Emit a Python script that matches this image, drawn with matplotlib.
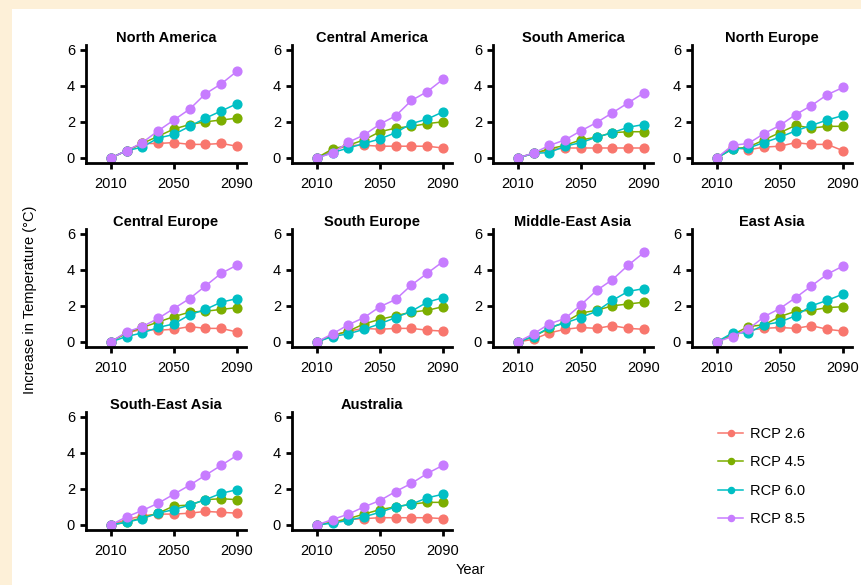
import matplotlib.pyplot as plt
from matplotlib.patches import Rectangle

plt.rcParams['font.family'] = ['Liberation Sans', 'DejaVu Sans']

years = [2010, 2020, 2030, 2040, 2050, 2060, 2070, 2080, 2090]
scenarios = ['RCP 2.6', 'RCP 4.5', 'RCP 6.0', 'RCP 8.5']
colors = ['#F8766D', '#7CAE00', '#00BFC4', '#C77CFF']
regions = ['North America', 'Central America', 'South America', 'North Europe',
           'Central Europe', 'South Europe', 'Middle-East Asia', 'East Asia',
           'South-East Asia', 'Australia']

# order per region: RCP 2.6, 4.5, 6.0, 8.5
north_america = [
    [0, 0.4, 0.8, 0.8, 0.85, 0.75, 0.75, 0.8, 0.65],
    [0, 0.4, 0.8, 1.2, 1.6, 1.85, 2.0, 2.1, 2.2],
    [0, 0.4, 0.6, 1.1, 1.3, 1.75, 2.2, 2.6, 3.0],
    [0, 0.4, 0.85, 1.5, 2.1, 2.7, 3.55, 4.1, 4.8],
]
central_america = [
    [0, 0.4, 0.7, 0.7, 0.65, 0.65, 0.65, 0.65, 0.55],
    [0, 0.5, 0.7, 1.0, 1.45, 1.65, 1.75, 1.9, 2.0],
    [0, 0.3, 0.55, 0.8, 1.05, 1.4, 1.9, 2.15, 2.55],
    [0, 0.27, 0.87, 1.27, 1.87, 2.33, 3.18, 3.67, 4.35],
]
south_america = [
    [0, 0.25, 0.45, 0.55, 0.55, 0.55, 0.55, 0.55, 0.55],
    [0, 0.25, 0.5, 0.7, 1.0, 1.15, 1.4, 1.45, 1.45],
    [0, 0.25, 0.3, 0.65, 0.85, 1.15, 1.4, 1.7, 1.85],
    [0, 0.27, 0.69, 1.0, 1.5, 1.96, 2.5, 3.05, 3.6],
]
north_europe = [
    [0, 0.6, 0.45, 0.6, 0.65, 0.85, 0.75, 0.75, 0.4],
    [0, 0.5, 0.6, 1.0, 1.4, 1.8, 1.65, 1.75, 1.75],
    [0, 0.5, 0.55, 0.85, 1.15, 1.5, 1.8, 2.1, 2.35],
    [0, 0.7, 0.8, 1.35, 1.8, 2.4, 2.9, 3.5, 3.9],
]
central_europe = [
    [0, 0.5, 0.7, 0.65, 0.7, 0.85, 0.75, 0.75, 0.55],
    [0, 0.5, 0.8, 1.1, 1.4, 1.65, 1.7, 1.8, 1.9],
    [0, 0.3, 0.5, 0.8, 1.0, 1.5, 1.8, 2.2, 2.4],
    [0, 0.55, 0.85, 1.3, 1.85, 2.4, 3.1, 3.8, 4.25],
]
south_europe = [
    [0, 0.35, 0.6, 0.75, 0.7, 0.75, 0.75, 0.65, 0.6],
    [0, 0.35, 0.6, 1.0, 1.25, 1.45, 1.65, 1.75, 1.95],
    [0, 0.3, 0.45, 0.7, 1.0, 1.35, 1.7, 2.2, 2.45],
    [0, 0.45, 0.95, 1.35, 1.95, 2.35, 3.15, 3.8, 4.45],
]
middle_east_asia = [
    [0, 0.15, 0.5, 0.7, 0.8, 0.75, 0.9, 0.75, 0.7],
    [0, 0.3, 0.75, 1.1, 1.6, 1.75, 2.0, 2.1, 2.2],
    [0, 0.3, 0.8, 1.05, 1.35, 1.7, 2.3, 2.8, 2.95],
    [0, 0.45, 1.0, 1.3, 2.05, 2.85, 3.45, 4.25, 4.95],
]
east_asia = [
    [0, 0.4, 0.65, 0.75, 0.8, 0.75, 0.9, 0.7, 0.6],
    [0, 0.4, 0.85, 0.95, 1.4, 1.7, 1.75, 1.9, 1.95],
    [0, 0.5, 0.5, 0.95, 1.1, 1.45, 2.0, 2.3, 2.65],
    [0, 0.3, 0.7, 1.4, 1.85, 2.45, 3.1, 3.75, 4.2],
]
south_east_asia = [
    [0, 0.3, 0.5, 0.6, 0.6, 0.65, 0.75, 0.7, 0.65],
    [0, 0.15, 0.4, 0.65, 1.05, 1.1, 1.4, 1.45, 1.4],
    [0, 0.15, 0.35, 0.65, 0.85, 1.1, 1.4, 1.75, 1.95],
    [0, 0.45, 0.8, 1.2, 1.7, 2.2, 2.75, 3.3, 3.85],
]
australia = [
    [0, 0.15, 0.3, 0.35, 0.4, 0.4, 0.4, 0.4, 0.35],
    [0, 0.15, 0.35, 0.6, 0.85, 1.0, 1.15, 1.25, 1.25],
    [0, 0.1, 0.25, 0.45, 0.7, 1.0, 1.15, 1.5, 1.7],
    [0, 0.3, 0.6, 1.0, 1.35, 1.85, 2.3, 2.85, 3.3],
]
all_data = [north_america, central_america, south_america, north_europe,
            central_europe, south_europe, middle_east_asia, east_asia,
            south_east_asia, australia]

W, H = 862, 585
fig = plt.figure(figsize=(W / 100, H / 100), dpi=100)
fig.patch.set_facecolor('#FDF0D8')
fig.patches.append(Rectangle((12 / W, 0), 1, 1 - 9 / H, transform=fig.transFigure,
                             facecolor='white', edgecolor='none', zorder=-10))

col_left = [86, 292, 493, 692]
row_bottom = [163, 347, 530]
ax_w, ax_h = 160, 118

for i, (name, data) in enumerate(zip(regions, all_data)):
    r, c = divmod(i, 4)
    left = col_left[c] / W
    bottom = 1 - row_bottom[r] / H
    ax = fig.add_axes([left, bottom, ax_w / W, ax_h / H])
    ax.patch.set_alpha(0)
    for j in range(4):
        ax.plot(years, data[j], color=colors[j], marker='o', markersize=6.3,
                linewidth=1.1, label=scenarios[j], clip_on=False)
    ax.set_xlim(1994.3, 2095.7)
    ax.set_ylim(-0.28, 6.25)
    ax.set_xticks([2010, 2050, 2090])
    ax.set_yticks([0, 2, 4, 6])
    ax.spines['top'].set_visible(False)
    ax.spines['right'].set_visible(False)
    for s in ['left', 'bottom']:
        ax.spines[s].set_linewidth(2)
    ax.tick_params(width=2, length=4.5, labelsize=10.5)
    ax.tick_params(axis='x', pad=5.5)
    ax.tick_params(axis='y', pad=3.5)
    ax.set_title(name, fontsize=10.5, fontweight='bold', pad=1.5)

handles, labels = ax.get_legend_handles_labels()
fig.legend(handles, labels, loc='upper left', bbox_to_anchor=(705 / W, 1 - 414 / H),
           frameon=False, fontsize=10.5, handlelength=1.7, handletextpad=0.5,
           labelspacing=0.98, markerscale=0.7)

fig.text(30 / W, 1 - 300 / H, 'Increase in Temperature (°C)', rotation=90,
         ha='center', va='center', fontsize=10.5)
fig.text(470 / W, 1 - 570 / H, 'Year', ha='center', va='center', fontsize=10.5)

fig.savefig('out.png', dpi=100, facecolor=fig.get_facecolor())
